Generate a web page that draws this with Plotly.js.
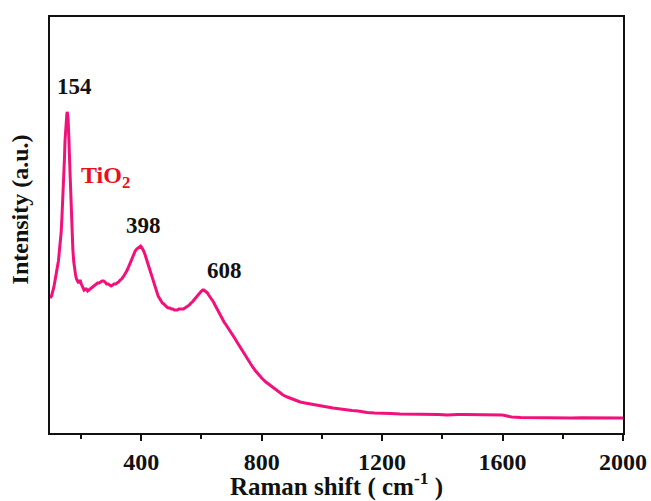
<!DOCTYPE html>
<html>
<head>
<meta charset="utf-8">
<script src="https://cdn.plot.ly/plotly-3.0.1.min.js"></script>
<style>
  html, body { margin: 0; padding: 0; background: #fff; }
  #chart { width: 651px; height: 501px; }
</style>
</head>
<body>
<div id="chart"></div>
<script>
// Raman spectrum of TiO2 (intensity in arbitrary units)
const ramanShift = [
  97, 102, 110, 116, 120, 125, 130, 134, 137, 140, 142, 145, 147, 149, 151, 153, 154, 155, 157, 159,
  160, 162, 164, 166, 168, 171, 173, 176, 178, 182, 185, 189, 192, 195, 198, 201, 204, 207, 210, 214,
  218, 222, 226, 230, 235, 240, 245, 250, 255, 260, 265, 270, 275, 280, 285, 290, 295, 300, 305, 310,
  315, 320, 325, 330, 335, 340, 345, 350, 355, 360, 365, 370, 375, 380, 385, 389, 392, 395, 398, 401,
  405, 408, 412, 416, 420, 424, 428, 432, 436, 440, 444, 448, 452, 456, 460, 465, 470, 475, 480, 485,
  490, 495, 500, 505, 510, 515, 520, 525, 530, 535, 540, 545, 550, 555, 560, 565, 570, 575, 580, 585,
  590, 595, 600, 604, 608, 612, 616, 620, 624, 629, 634, 640, 645, 650, 655, 660, 665, 670, 675, 682,
  689, 695, 700, 710, 720, 730, 740, 750, 761, 770, 780, 790, 800, 814, 828, 840, 850, 860, 871, 885,
  900, 914, 928, 944, 960, 980, 1000, 1018, 1037, 1058, 1080, 1100, 1120, 1135, 1150, 1175, 1200, 1230,
  1260, 1280, 1300, 1330, 1359, 1388, 1416, 1435, 1450, 1475, 1500, 1528, 1556, 1580, 1600, 1615, 1630,
  1660, 1690, 1720, 1750, 1775, 1800, 1830, 1860, 1900, 1930, 1960, 2000
];
const intensity = [
  135, 137, 146, 155, 162, 172, 188, 200, 218, 236, 253, 274, 293, 306, 316, 319, 321, 320, 315, 305,
  293, 273, 253, 232, 213, 195, 183, 171, 165, 158, 154, 151, 150, 152, 152, 149, 147, 145, 143, 144,
  144, 142, 143, 144, 145, 146, 147, 149, 150, 150, 151, 152, 152, 151, 149, 149, 148, 147, 148, 149,
  149, 150, 151, 153, 154, 156, 158, 161, 164, 168, 172, 175, 179, 182, 184, 185, 186, 187, 187, 186,
  184, 182, 179, 175, 171, 167, 163, 159, 155, 151, 147, 143, 140, 137, 135, 132, 130, 129, 127, 126,
  125, 125, 124, 124, 123, 123, 123, 124, 124, 124, 124, 125, 126, 127, 128, 130, 131, 133, 135, 137,
  139, 141, 142, 143, 143, 142, 141, 140, 138, 136, 134, 131, 128, 125, 122, 120, 117, 114, 111, 108,
  105, 102, 99, 95, 90, 85, 80, 75, 70, 66, 62, 58, 55, 51, 48, 45, 43, 41, 38, 36,
  34, 32.5, 31, 30, 29, 28, 27, 26, 25, 24, 23, 22.5, 22, 21, 20.5, 20, 20, 19.5,
  19, 19, 19, 19, 19, 18.5, 18, 18.5, 18.5, 18.5, 18.5, 18.7, 18.7, 18.5, 18, 17, 16,
  15.5, 15.3, 15.2, 15, 15, 15, 15, 15.2, 15, 15, 15.2, 15
];

// Peak positions labelled above the spectrum
const peakLabels = ['154', '398', '608'];
const peakLabelX = [180, 406, 675];
const peakLabelY = [347, 208, 163];

const serif = 'Liberation Serif, Times New Roman, serif';

const traces = [{
  x: ramanShift,
  y: intensity,
  type: 'scatter',
  mode: 'lines',
  line: { color: '#F2117A', width: 3 },
  hoverinfo: 'skip'
}];

const annotations = peakLabels.map((t, i) => ({
  x: peakLabelX[i], y: peakLabelY[i], xref: 'x', yref: 'y',
  text: t, showarrow: false,
  font: { family: serif, size: 23, color: '#111', weight: 'bold' }
}));

// sample name
annotations.push({
  x: 280, y: 256, xref: 'x', yref: 'y',
  text: 'TiO<sub>2</sub>', showarrow: false,
  font: { family: serif, size: 24, color: '#E8101E', weight: 'bold' }
});

// vertical axis title, set slightly above the axis centre
annotations.push({
  x: -0.052, y: 0.538, xref: 'paper', yref: 'paper',
  text: 'Intensity (a.u.)', textangle: -90, showarrow: false,
  xanchor: 'center', yanchor: 'middle',
  font: { family: serif, size: 24, color: '#111', weight: 'bold' }
});

const layout = {
  width: 651,
  height: 501,
  margin: { l: 50, r: 28, t: 17, b: 68 },
  paper_bgcolor: '#fff',
  plot_bgcolor: '#fff',
  showlegend: false,
  xaxis: {
    range: [97, 2000],
    tick0: 0,
    dtick: 400,
    ticks: 'outside',
    ticklen: 6,
    tickwidth: 2,
    tickcolor: '#111',
    minor: { dtick: 200, tick0: 0, ticks: 'outside', ticklen: 4, tickwidth: 2, tickcolor: '#111' },
    showline: true,
    linecolor: '#111',
    linewidth: 2,
    mirror: true,
    showgrid: false,
    zeroline: false,
    tickfont: { family: serif, size: 24, color: '#111', weight: 'bold' },
    title: {
      text: 'Raman shift ( cm<sup>-1</sup> )',
      font: { family: serif, size: 25, color: '#111', weight: 'bold' },
      standoff: 6
    }
  },
  yaxis: {
    range: [0, 416],
    showticklabels: false,
    ticks: '',
    showline: true,
    linecolor: '#111',
    linewidth: 2,
    mirror: true,
    showgrid: false,
    zeroline: false
  },
  annotations: annotations
};

Plotly.newPlot('chart', traces, layout, { staticPlot: true, displayModeBar: false });
</script>
</body>
</html>
